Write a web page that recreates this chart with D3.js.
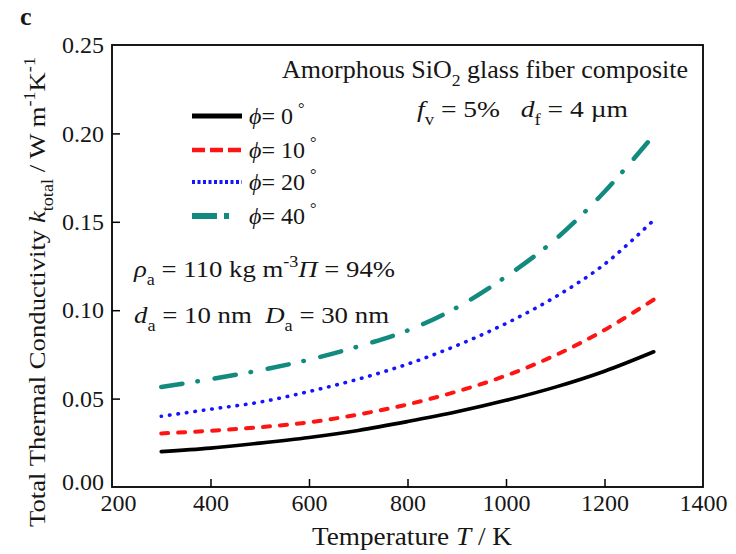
<!DOCTYPE html>
<html>
<head>
<meta charset="utf-8">
<script src="https://cdn.jsdelivr.net/npm/d3@7"></script>
<style>
  body { margin: 0; background: #fff; }
  svg { font-family: "Liberation Serif", "Times New Roman", serif; }
</style>
</head>
<body>
<div id="chart"></div>
<script>
// data
const temps = [300, 400, 500, 600, 700, 800, 900, 1000, 1100, 1200, 1300];
const k0  = [0.0200, 0.0220, 0.0248, 0.0280, 0.0320, 0.0370, 0.0425, 0.0490, 0.0565, 0.0655, 0.0765];
const k10 = [0.0303, 0.0318, 0.0338, 0.0366, 0.0410, 0.0467, 0.0540, 0.0630, 0.0745, 0.0888, 0.1060];
const k20 = [0.0400, 0.0440, 0.0480, 0.0540, 0.0610, 0.0695, 0.0800, 0.0925, 0.1075, 0.1260, 0.1510];
const k40 = [0.0566, 0.0610, 0.0660, 0.0720, 0.0795, 0.0885, 0.1015, 0.1190, 0.1400, 0.1670, 0.1990];
const angles = ["0", "10", "20", "40"];
const xTicks = [200, 400, 600, 800, 1000, 1200, 1400];
const yTicks = [0, 0.05, 0.10, 0.15, 0.20, 0.25];

// line looks: plot dash / legend dash
const styles = [
  { color: "#000000", dash: null,              w: 3.6, legDash: null,        legW: 5 },
  { color: "#ff1414", dash: "7,10",            w: 4,   legDash: "13,5",      legW: 4.5 },
  { color: "#1414ff", dash: "0.5,8",           w: 3.6, legDash: "3,2.5",     legW: 4 },
  { color: "#138a80", dash: "21.5,15,0.5,17",  w: 4.5, legDash: "25,7,5,100", legW: 6 }
];

const W = 736, H = 554;
const m = { left: 112, right: 703, top: 45, bottom: 487 };
const ink = "#161616";

const svg = d3.select("#chart").append("svg")
    .attr("width", W)
    .attr("height", H);

const x = d3.scaleLinear().domain([200, 1400]).range([m.left, m.right]);
const y = d3.scaleLinear().domain([0, 0.25]).range([m.bottom, m.top]);

// rich text helper: parts with italic / sub / sup
function rich(sel, parts, size) {
    let shift = 0;
    parts.forEach(function(p) {
        const target = p.sub ? size * 0.32 : p.sup ? -size * 0.42 : 0;
        const ts = sel.append("tspan").text(p.t).attr("dy", target - shift);
        if (p.sub || p.sup) ts.attr("font-size", size * 0.68);
        if (p.it) ts.attr("font-style", "italic");
        if (p.dx) ts.attr("dx", p.dx);
        shift = target;
    });
}

// axes, ticks pointing inward
const xAxis = svg.append("g")
    .attr("transform", "translate(0," + m.bottom + ")")
    .call(d3.axisBottom(x).tickValues(xTicks).tickSize(-8).tickSizeOuter(0).tickPadding(7)
        .tickFormat(d3.format("d")));
const yAxis = svg.append("g")
    .attr("transform", "translate(" + m.left + ",0)")
    .call(d3.axisLeft(y).tickValues(yTicks).tickSize(-8).tickSizeOuter(0).tickPadding(8)
        .tickFormat(d3.format(".2f")));

[xAxis, yAxis].forEach(function(a) {
    a.select(".domain").remove();
    a.selectAll(".tick line").attr("stroke", "#000").attr("stroke-width", 1.5);
    a.selectAll(".tick text").attr("font-size", 24).attr("fill", ink)
        .attr("font-family", "Liberation Serif");
});
// first/last ticks sit on the frame
xAxis.selectAll(".tick").filter(function(d) { return d === 200 || d === 1400; }).select("line").remove();
yAxis.selectAll(".tick").filter(function(d) { return d === 0 || d === 0.25; }).select("line").remove();
// the 0.00 label sits just above the 200 label
yAxis.selectAll(".tick").filter(function(d) { return d === 0; }).select("text").attr("dy", "0.1em");
xAxis.selectAll(".tick").filter(function(d) { return d === 200; }).select("text").attr("dx", 6);

svg.append("rect")
    .attr("x", m.left).attr("y", m.top)
    .attr("width", m.right - m.left).attr("height", m.bottom - m.top)
    .attr("fill", "none").attr("stroke", "#000").attr("stroke-width", 1.8);

// curves
const series = [k0, k10, k20, k40];
const line = d3.line()
    .x(function(d) { return x(d[0]); })
    .y(function(d) { return y(d[1]); })
    .curve(d3.curveCatmullRom);

series.forEach(function(vals, i) {
    const s = styles[i];
    svg.append("path")
        .attr("d", line(temps.map(function(t, j) { return [t, vals[j]]; })))
        .attr("fill", "none")
        .attr("stroke", s.color)
        .attr("stroke-width", s.w)
        .attr("stroke-dasharray", s.dash)
        .attr("stroke-linecap", "round");
});

// legend
const legY = [116, 150, 182, 216];
angles.forEach(function(a, i) {
    const s = styles[i];
    svg.append("line")
        .attr("x1", 192).attr("x2", 242)
        .attr("y1", legY[i]).attr("y2", legY[i])
        .attr("stroke", s.color)
        .attr("stroke-width", s.legW)
        .attr("stroke-dasharray", s.legDash);
    const t = svg.append("text")
        .attr("x", 249).attr("y", legY[i] + 8)
        .attr("font-size", 24).attr("fill", ink);
    rich(t, [{ t: "\u03d5", it: true }, { t: "= " + a }, { t: "\u00b0", sup: true, dx: 5 }], 24);
});

// annotations
const t1 = svg.append("text").attr("x", 282).attr("y", 78)
    .attr("font-size", 25).attr("fill", ink)
    .attr("textLength", 406).attr("lengthAdjust", "spacingAndGlyphs");
rich(t1, [{ t: "Amorphous SiO" }, { t: "2", sub: true }, { t: " glass fiber composite" }], 25);

const t2 = svg.append("text").attr("x", 417).attr("y", 117)
    .attr("font-size", 24).attr("fill", ink)
    .attr("textLength", 211).attr("lengthAdjust", "spacingAndGlyphs");
rich(t2, [{ t: "f", it: true }, { t: "v", sub: true }, { t: " = 5%" },
          { t: "d", it: true, dx: 18 }, { t: "f", sub: true }, { t: " = 4 \u00b5m" }], 24);

const t3 = svg.append("text").attr("x", 134).attr("y", 277)
    .attr("font-size", 24).attr("fill", ink)
    .attr("textLength", 261).attr("lengthAdjust", "spacingAndGlyphs");
rich(t3, [{ t: "\u03c1", it: true }, { t: "a", sub: true }, { t: " = 110 kg m" },
          { t: "-3", sup: true }, { t: "\u03a0", it: true }, { t: " = 94%" }], 24);

const t4 = svg.append("text").attr("x", 134).attr("y", 323)
    .attr("font-size", 24).attr("fill", ink)
    .attr("textLength", 255).attr("lengthAdjust", "spacingAndGlyphs");
rich(t4, [{ t: "d", it: true }, { t: "a", sub: true }, { t: " = 10 nm" },
          { t: "D", it: true, dx: 12 }, { t: "a", sub: true }, { t: " = 30 nm" }], 24);

// axis titles
const xl = svg.append("text").attr("x", 312).attr("y", 545)
    .attr("font-size", 25).attr("fill", ink)
    .attr("textLength", 200).attr("lengthAdjust", "spacingAndGlyphs");
rich(xl, [{ t: "Temperature " }, { t: "T", it: true }, { t: " / K" }], 25);

const yl = svg.append("text")
    .attr("transform", "translate(45,527) rotate(-90)")
    .attr("font-size", 24).attr("fill", ink)
    .attr("textLength", 470).attr("lengthAdjust", "spacingAndGlyphs");
rich(yl, [{ t: "Total Thermal Conductivity " }, { t: "k", it: true }, { t: "total", sub: true },
          { t: " / W m" }, { t: "-1", sup: true }, { t: "K" }, { t: "-1", sup: true }], 24);

svg.append("text").attr("x", 20).attr("y", 25)
    .attr("font-size", 26).attr("font-weight", "bold").attr("fill", ink).text("c");
</script>
</body>
</html>
